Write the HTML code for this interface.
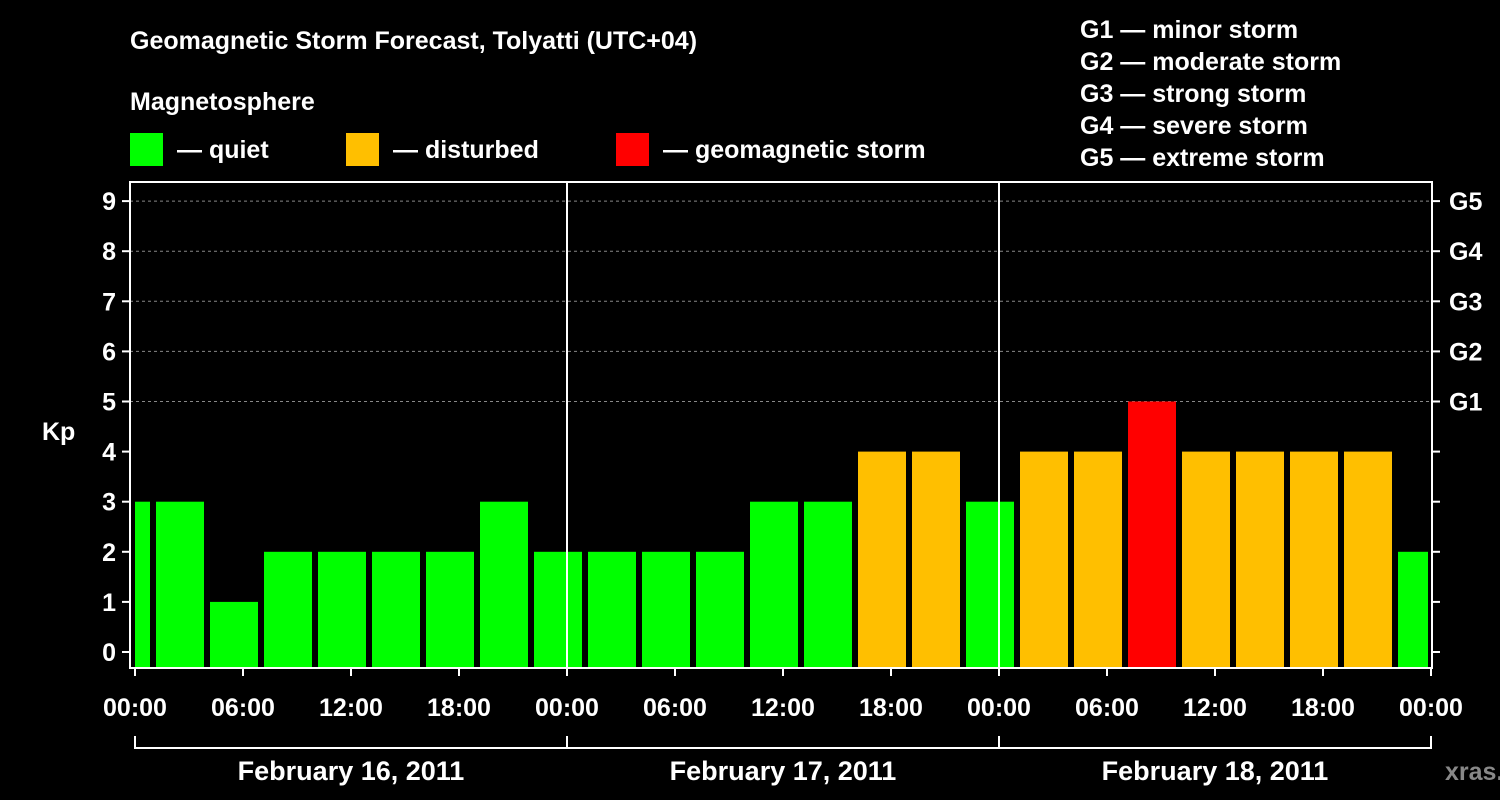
<!DOCTYPE html>
<html><head><meta charset="utf-8"><style>
body{margin:0;background:#000;}
svg{display:block;font-family:"Liberation Sans",sans-serif;font-weight:bold;}
</style></head><body>
<svg id="c" width="1500" height="800" viewBox="0 0 1500 800">
<rect width="1500" height="800" fill="#000"/>
<text x="130" y="49" fill="#fff" font-size="25">Geomagnetic Storm Forecast, Tolyatti (UTC+04)</text>
<text x="130" y="110" fill="#fff" font-size="25">Magnetosphere</text>
<g><rect x="130" y="133" width="33" height="33" fill="#00ff00"/><text x="177" y="158" fill="#fff" font-size="25">— quiet</text></g>
<g><rect x="346" y="133" width="33" height="33" fill="#ffbf00"/><text x="393" y="158" fill="#fff" font-size="25">— disturbed</text></g>
<g><rect x="616" y="133" width="33" height="33" fill="#ff0000"/><text x="663" y="158" fill="#fff" font-size="25">— geomagnetic storm</text></g>
<g fill="#fff" font-size="25">
<text x="1080" y="38">G1 — minor storm</text><text x="1080" y="70">G2 — moderate storm</text><text x="1080" y="102">G3 — strong storm</text><text x="1080" y="134">G4 — severe storm</text><text x="1080" y="166">G5 — extreme storm</text>
</g>
<text x="42" y="440" fill="#fff" font-size="25">Kp</text>
<text x="1445" y="780" fill="#888" font-size="25">xras.ru</text>
<g id="plot"></g>
</svg>
<script>
const kpValues=[3,3,1,2,2,2,2,3,2,2,2,2,3,3,4,4,3,4,4,5,4,4,4,4,2];
const firstBarHour=-2;
const yTicks=[0,1,2,3,4,5,6,7,8,9];
const gLabels=["G1","G2","G3","G4","G5"];
const xTickLabels=["00:00","06:00","12:00","18:00","00:00","06:00","12:00","18:00","00:00","06:00","12:00","18:00","00:00"];
const dayLabels=["February 16, 2011","February 17, 2011","February 18, 2011"];
const L=130,R=1432,T=182,B=668,X0=135,HPX=18;
const x=h=>X0+h*HPX;
const y=v=>652-v*50.1;
const NS="http://www.w3.org/2000/svg";
const g=document.getElementById('plot');
function mk(t,a){const e=document.createElementNS(NS,t);for(const k in a)e.setAttribute(k,a[k]);g.appendChild(e);return e;}
// grid
for(let v=5;v<=9;v++){const e=mk('line',{x1:L,x2:R,y1:y(v),y2:y(v),stroke:'#888','stroke-dasharray':'3,3'});

}
// bars
kpValues.forEach((v,i)=>{
 const h0=firstBarHour+i*3;
 let x1=x(h0)+3,x2=x(h0+3)-3;
 x1=Math.max(x1,X0);x2=Math.min(x2,x(72)-3);
 const col=v>=5?'#ff0000':(v>=4?'#ffbf00':'#00ff00');
 const r=mk('rect',{x:x1,y:y(v),width:x2-x1,height:B-y(v),fill:col});
 
 
});
// day dividers
for(let d=1;d<3;d++){const e=mk('line',{x1:x(d*24),x2:x(d*24),y1:T,y2:B,stroke:'#fff','stroke-width':2});

}
// frame
const fr=mk('rect',{x:L,y:T,width:R-L,height:B-T,fill:'none',stroke:'#fff','stroke-width':2});


// y ticks
yTicks.forEach(v=>{
 mk('line',{x1:L-8,x2:L,y1:y(v),y2:y(v),stroke:'#fff','stroke-width':2});
 mk('line',{x1:R,x2:R+8,y1:y(v),y2:y(v),stroke:'#fff','stroke-width':2});
 const t=mk('text',{x:L-14,y:y(v)+9,fill:'#fff','font-size':25,'text-anchor':'end'});
 t.textContent=v;
 
 
});
gLabels.forEach((s,i)=>{
 const t=mk('text',{x:R+17,y:y(5+i)+9,fill:'#fff','font-size':25});
 t.textContent=s;
 
 
});
// x ticks
xTickLabels.forEach((s,i)=>{
 const xx=x(i*6);
 mk('line',{x1:xx,x2:xx,y1:B,y2:B+8,stroke:'#fff','stroke-width':2});
 const t=mk('text',{x:xx,y:716,fill:'#fff','font-size':25,'text-anchor':'middle'});
 t.textContent=s;
 
 
});
// date bracket
mk('line',{x1:x(0),x2:x(72),y1:748,y2:748,stroke:'#fff','stroke-width':2});
for(let d=0;d<=3;d++)mk('line',{x1:x(d*24),x2:x(d*24),y1:736,y2:749,stroke:'#fff','stroke-width':2});
dayLabels.forEach((s,i)=>{
 const t=mk('text',{x:x(i*24+12),y:780,fill:'#fff','font-size':27,'text-anchor':'middle'});
 t.textContent=s;
 
 
});
</script>
</body></html>
